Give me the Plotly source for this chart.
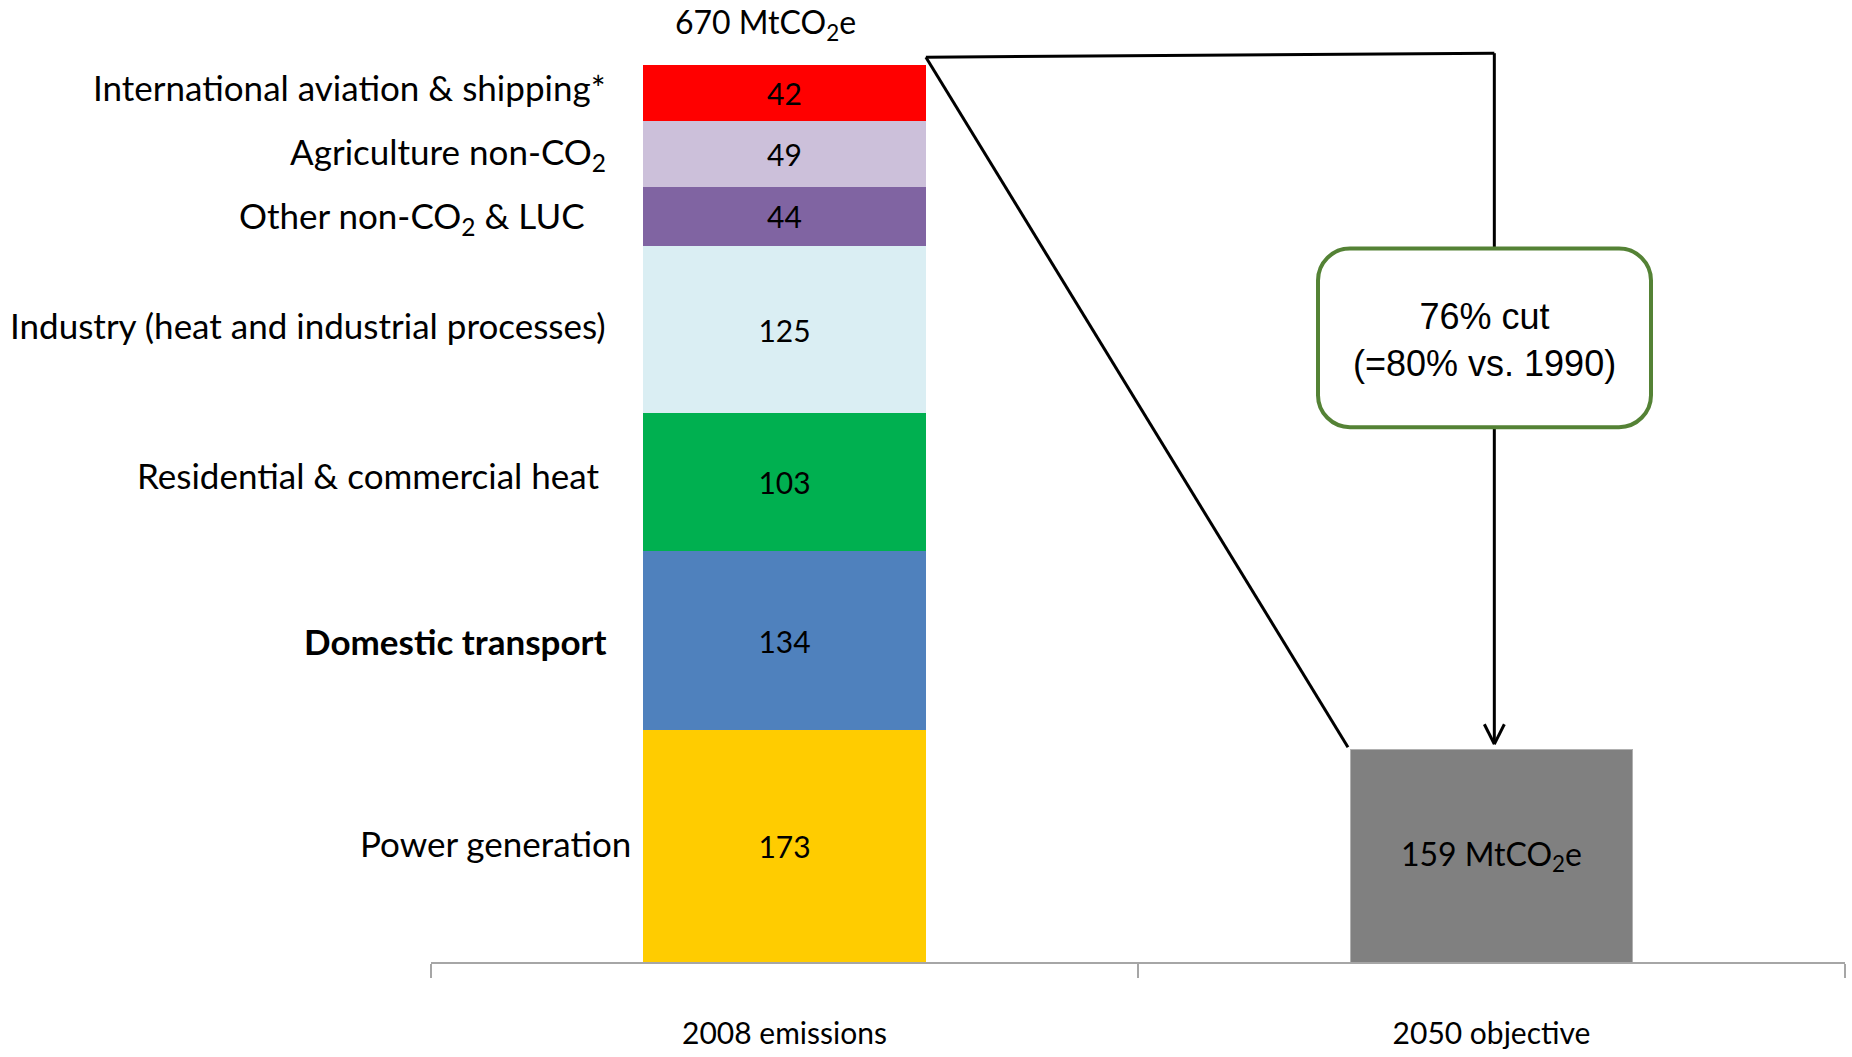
import plotly.graph_objects as go

# --- data -------------------------------------------------------------
categories = ["2008 emissions", "2050 objective"]
sectors = [
    "Power generation",
    "<b>Domestic transport</b>",
    "Residential & commercial heat",
    "Industry (heat and industrial processes)",
    "Other non-CO<sub>2</sub> & LUC",
    "Agriculture non-CO<sub>2</sub>",
    "International aviation & shipping*",
]
values_2008 = [173, 134, 103, 125, 44, 49, 42]
value_2050 = 159
cut_lines = ["76% cut", "(=80% vs. 1990)"]

# --- styling ----------------------------------------------------------
sector_colors = ["#FFCC00", "#4F81BD", "#00B050", "#DAEEF3", "#8064A2", "#CCC0DA", "#FF0000"]
label_right_px = [633, 609, 601, 608, 587, 608, 608]
label_yshift = [3, 0, 7, 5, -1, 1, 6]

W, H = 1852, 1057
L, R, T, B = 431, 1845, 25, 964
Y_MAX = 700
FONT = "Lato, Carlito, sans-serif"

total_2008 = sum(values_2008)


def xpx(v):
    return L + (v + 0.5) / 2 * (R - L)


def ypx(v):
    return B - v / Y_MAX * (B - T)


def px_x(p):
    return (p - L) / (R - L)


def px_y(p):
    return (B - p) / (B - T)


fig = go.Figure()

for name, val, col in zip(sectors, values_2008, sector_colors):
    fig.add_trace(go.Bar(
        x=[categories[0]], y=[val], name=name,
        marker=dict(color=col, line=dict(width=0)),
        width=0.4, text=[str(val)], textposition="inside",
        insidetextanchor="middle",
        textfont=dict(family=FONT, size=30, color="black"),
        showlegend=False,
    ))

fig.add_trace(go.Bar(
    x=[categories[1]], y=[value_2050],
    marker=dict(color="#808080", line=dict(color="#b0b0b0", width=1)),
    width=0.4, text=[f"{value_2050} MtCO<sub>2</sub>e"], textposition="inside",
    insidetextanchor="middle",
    textfont=dict(family=FONT, size=32, color="black"),
    showlegend=False,
))

# sector labels to the left of the stacked bar
cum = 0
for name, val, xr, ys in zip(sectors, values_2008, label_right_px, label_yshift):
    fig.add_annotation(
        x=px_x(xr), xref="paper", xanchor="right",
        y=cum + val / 2, yref="y", yanchor="middle", yshift=ys,
        text=name, showarrow=False,
        font=dict(family=FONT, size=35, color="black"),
    )
    cum += val

# total above the 2008 bar
fig.add_annotation(
    x=px_x(xpx(0) - 19), xref="paper", xanchor="center",
    y=px_y(ypx(total_2008) - 41), yref="paper", yanchor="middle",
    text=f"{total_2008} MtCO<sub>2</sub>e", showarrow=False,
    font=dict(family=FONT, size=32, color="black"),
)

# connector lines between the two bars
corner = (xpx(0.2), ypx(total_2008) - 8)
top_end = (xpx(1.004), ypx(total_2008) - 12)
bar2_corner = (xpx(0.797), ypx(value_2050) - 2)

box_l, box_r, box_t, box_b = 1318, 1651, 249, 428
arrow_x = top_end[0]
tip_y = ypx(value_2050) - 5

line_style = dict(color="black", width=3)


def seg(p0, p1):
    fig.add_shape(type="line", xref="paper", yref="paper",
                  x0=px_x(p0[0]), y0=px_y(p0[1]), x1=px_x(p1[0]), y1=px_y(p1[1]),
                  line=line_style)


seg(corner, top_end)
seg(corner, bar2_corner)
seg(top_end, (arrow_x, box_t))
seg((arrow_x, box_b), (arrow_x, tip_y))
seg((arrow_x - 10, tip_y - 20), (arrow_x, tip_y))
seg((arrow_x + 10, tip_y - 20), (arrow_x, tip_y))

# rounded callout box
r = 32
k = 0.5523 * r


def P(x, y):
    return f"{px_x(x):.5f},{px_y(y):.5f}"


path = (
    f"M {P(box_l + r, box_t)} L {P(box_r - r, box_t)} "
    f"C {P(box_r - r + k, box_t)} {P(box_r, box_t + r - k)} {P(box_r, box_t + r)} "
    f"L {P(box_r, box_b - r)} "
    f"C {P(box_r, box_b - r + k)} {P(box_r - r + k, box_b)} {P(box_r - r, box_b)} "
    f"L {P(box_l + r, box_b)} "
    f"C {P(box_l + r - k, box_b)} {P(box_l, box_b - r + k)} {P(box_l, box_b - r)} "
    f"L {P(box_l, box_t + r)} "
    f"C {P(box_l, box_t + r - k)} {P(box_l + r - k, box_t)} {P(box_l + r, box_t)} Z"
)
fig.add_shape(type="path", xref="paper", yref="paper", path=path,
              line=dict(color="#548235", width=4), fillcolor="white")

fig.add_annotation(
    x=px_x((box_l + box_r) / 2), xref="paper", xanchor="center",
    y=px_y((box_t + box_b) / 2 + 2), yref="paper", yanchor="middle",
    text="<br>".join(cut_lines), showarrow=False, align="center",
    font=dict(family="Liberation Sans, Arial, sans-serif", size=36, color="black"),
)

fig.update_layout(
    width=W, height=H,
    margin=dict(l=L, r=W - R, t=T, b=H - B, pad=0),
    barmode="stack", bargap=0.6,
    plot_bgcolor="white", paper_bgcolor="white",
    xaxis=dict(
        type="category", categoryorder="array", categoryarray=categories,
        range=[-0.5, 1.5], showline=True, linecolor="#a6a6a6", linewidth=2,
        ticks="outside", ticklen=14, tickcolor="#a6a6a6", tickwidth=2,
        tickson="boundaries", showgrid=False, ticklabelstandoff=44,
        tickfont=dict(family=FONT, size=30, color="black"),
        fixedrange=True,
    ),
    yaxis=dict(range=[0, Y_MAX], visible=False, showgrid=False, fixedrange=True),
)

fig.write_html("out.html")
